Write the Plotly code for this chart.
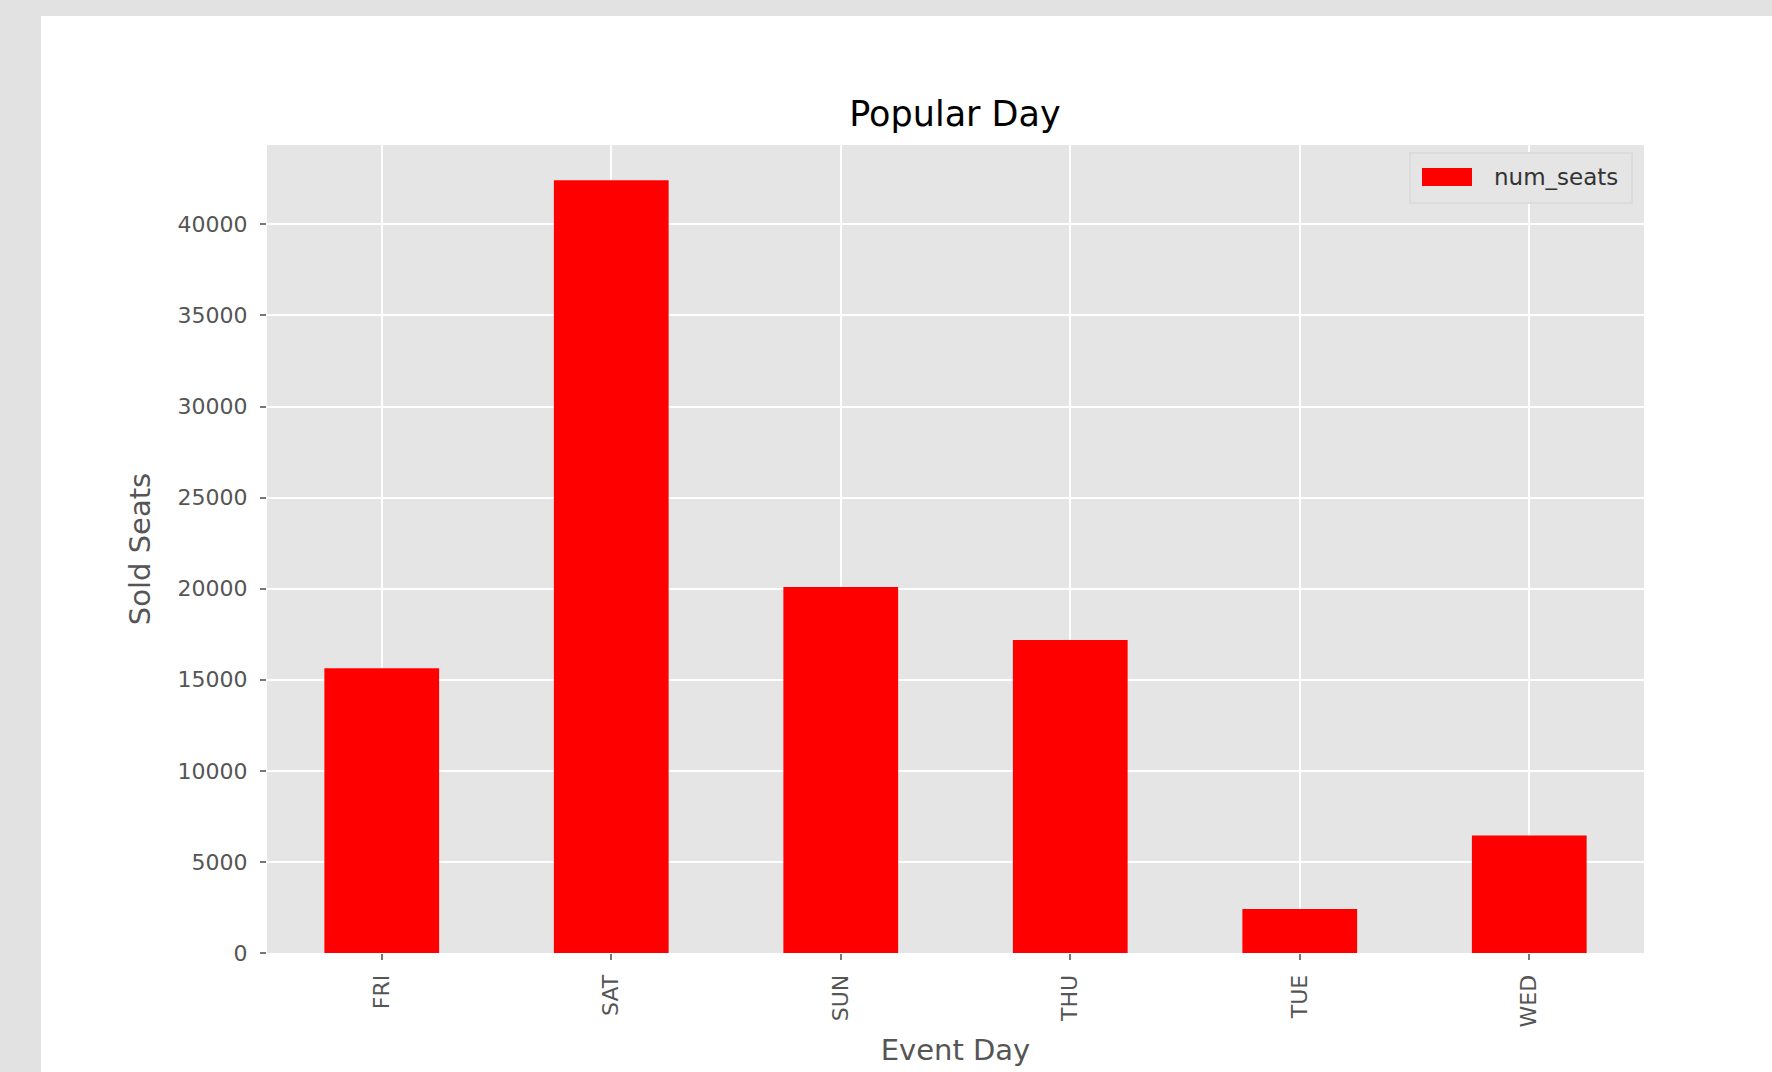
import plotly.graph_objects as go

days = ["FRI", "SAT", "SUN", "THU", "TUE", "WED"]
num_seats = [15630, 42430, 20100, 17180, 2420, 6450]
y_ticks = [0, 5000, 10000, 15000, 20000, 25000, 30000, 35000, 40000]

W, H = 1772, 1072
L, R, T, B = 267, 128, 145, 119
PW, PH = W - L - R, H - T - B

def px(x):
    return (x - L) / PW

def py(y):
    return (H - B - y) / PH

fig = go.Figure()
fig.add_trace(go.Bar(x=days, y=num_seats, marker=dict(color="#ff0000", line=dict(width=0)),
                     width=0.5, name="num_seats", showlegend=False))

GREY = "#e2e2e2"
shapes = [
    # outer grey strips
    dict(type="rect", xref="paper", yref="paper", x0=px(0), x1=px(41), y0=py(1072), y1=py(0),
         fillcolor=GREY, line=dict(width=0), layer="below"),
    dict(type="rect", xref="paper", yref="paper", x0=px(0), x1=px(1772), y0=py(16), y1=py(0),
         fillcolor=GREY, line=dict(width=0), layer="below"),
    # legend box
    dict(type="rect", xref="paper", yref="paper", x0=px(1410), x1=px(1632), y0=py(203), y1=py(153),
         fillcolor="#e5e5e5", line=dict(width=2, color="#dcdcdc"), layer="above"),
    # legend patch
    dict(type="rect", xref="paper", yref="paper", x0=px(1422), x1=px(1472), y0=py(186), y1=py(168),
         fillcolor="#ff0000", line=dict(width=0), layer="above"),
]

fig.update_layout(
    width=W, height=H,
    margin=dict(l=L, r=R, t=T, b=B),
    paper_bgcolor="white",
    plot_bgcolor="#e5e5e5",
    font=dict(family="DejaVu Sans", color="#555555"),
    title=dict(text="Popular Day", x=955 / W, xanchor="center",
               y=1 - 114 / H, yanchor="middle", yref="container",
               font=dict(size=35, color="#000000")),
    shapes=shapes,
    annotations=[dict(text="num_seats", xref="paper", yref="paper", x=px(1492), y=py(177),
                      xanchor="left", yanchor="middle", showarrow=False,
                      font=dict(size=23, color="#333333"))],
    bargap=0.5,
)
fig.update_xaxes(
    type="category", range=[-0.5, 5.5], showgrid=True, gridcolor="white", gridwidth=2,
    ticks="outside", ticklen=6, tickwidth=2, tickcolor="#777777", tickangle=-90,
    tickfont=dict(size=22, color="#555555"), zeroline=False, ticklabelstandoff=6,
    title=dict(text="Event Day", font=dict(size=29, color="#555555"), standoff=13),
)
fig.update_yaxes(
    range=[0, 44360], tickvals=y_ticks, tickformat="d", showgrid=True, gridcolor="white",
    gridwidth=2, ticks="outside", ticklen=6, tickwidth=2, tickcolor="#777777",
    tickfont=dict(size=22, color="#555555"), zeroline=False, ticklabelstandoff=8,
    title=dict(text="Sold Seats", font=dict(size=29, color="#555555"), standoff=18),
)

fig.write_html("out.html", config={"displayModeBar": False},
               post_script="document.body.style.margin='0';")
